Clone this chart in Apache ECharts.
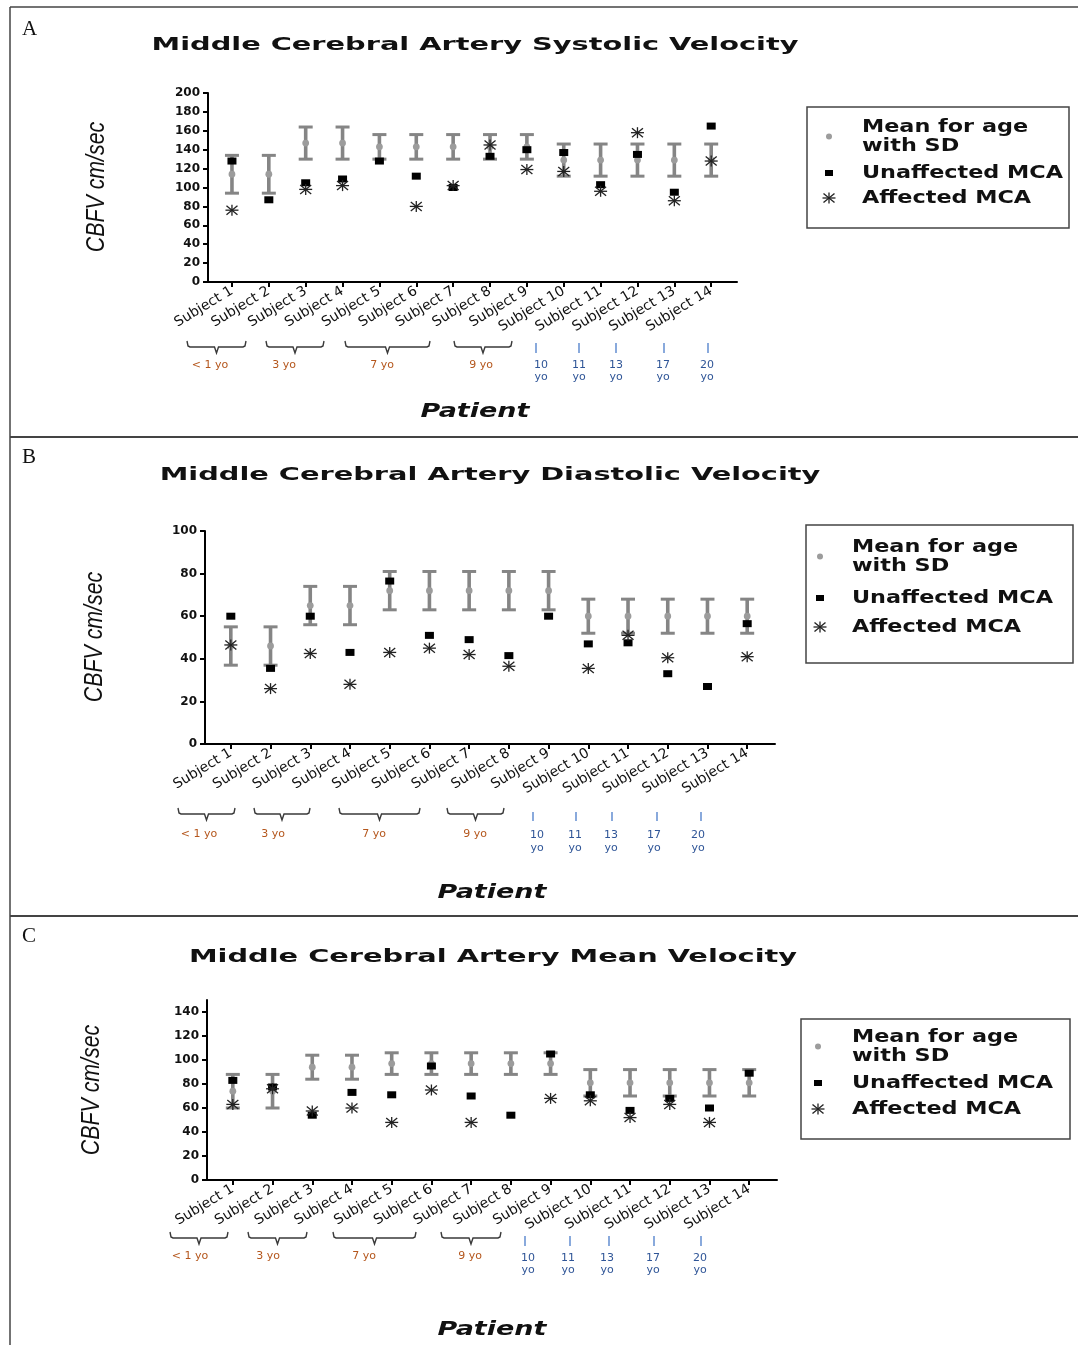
<!DOCTYPE html>
<html>
<head>
<meta charset="utf-8">
<script src="https://cdn.jsdelivr.net/npm/echarts@6/dist/echarts.min.js"></script>
<style>
html,body{margin:0;padding:0;background:#fff;}
#chart{width:1078px;height:1345px;}
</style>
</head>
<body>
<div id="chart"></div>
<script>
// ---------------- DATA ----------------
const subjects = ['Subject 1','Subject 2','Subject 3','Subject 4','Subject 5','Subject 6','Subject 7',
  'Subject 8','Subject 9','Subject 10','Subject 11','Subject 12','Subject 13','Subject 14'];

// Panel A: systolic velocity
const sysMean = [114,114,147,147,143,143,143,143,143,129,129,129,129,129];
const sysSD   = [20,20,17,17,13,13,13,13,13,17,17,17,17,17];
const sysUnaffected = [128,87,105,109,128,112,100,133,140,137,103,135,95,165];
const sysAffected   = [76,null,98,102,null,80,102,145,119,117,96,158,86,128];

// Panel B: diastolic velocity
const diaMean = [46,46,65,65,72,72,72,72,72,60,60,60,60,60];
const diaSD   = [9,9,9,9,9,9,9,9,9,8,8,8,8,8];
const diaUnaffected = [60,35.5,60,43,76.5,51,49,41.5,60,47,47.5,33,27,56.5];
const diaAffected   = [46.5,26,42.5,28,43,45,42,36.5,null,35.5,51,40.5,null,41];

// Panel C: mean velocity
const mnMean = [74,74,94,94,97,97,97,97,97,81,81,81,81,81];
const mnSD   = [14,14,10,10,9,9,9,9,9,11,11,11,11,11];
const mnUnaffected = [83,77.5,54,73,71,95,70,54,105,71,58,68,60,89];
const mnAffected   = [63,76,57.5,60,48,75,48,null,68,66,52,63,48,null];

const titles = ['Middle Cerebral Artery Systolic Velocity','Middle Cerebral Artery Diastolic Velocity','Middle Cerebral Artery Mean Velocity'];
const panelLetters = ['A','B','C'];
const yAxisName = 'CBFV cm/sec';
const xAxisName = 'Patient';
const legendLabels = ['Mean for age','with SD','Unaffected MCA','Affected MCA'];
const ageGroupLabels = ['< 1 yo','3 yo','7 yo','9 yo'];
const ageSingleLabels = ['10','11','13','17','20'];
const ageUnit = 'yo';
const yMax = [200,100,150];
const yLabelTicks = [[0,20,40,60,80,100,120,140,160,180,200],[0,20,40,60,80,100],[0,20,40,60,80,100,120,140]];

const panelsData = [
  {mean:sysMean, sd:sysSD, un:sysUnaffected, af:sysAffected},
  {mean:diaMean, sd:diaSD, un:diaUnaffected, af:diaAffected},
  {mean:mnMean, sd:mnSD, un:mnUnaffected, af:mnAffected}
];

// ---------------- LAYOUT (positions/styles only) ----------------
const layout = [
  {grid:{left:208,top:93,width:529,height:189}, title:[475,45], letter:[22,19], ylab:[97,187], patient:[475,412],
   legend:{box:[807,107,262,121], sym:829, tx:862, ys:[127,146,173,198]},
   brackets:[[187,246],[266,324],[345,430],[454,512]], bLab:[210,284,382,481], bY:[341,347,353], bLabY:365,
   ticks:[536,579,616,664,708], tLab:[541,579,616,663,707], tY:[343,353], tLabY:[365,377]},
  {grid:{left:205,top:531,width:570,height:213}, title:[490,475], letter:[22,447], ylab:[95,637], patient:[492,893],
   legend:{box:[806,525,267,138], sym:820, tx:852, ys:[547,566,598,627]},
   brackets:[[178,235],[254,310],[339,420],[447,504]], bLab:[199,273,374,475], bY:[808,814,820], bLabY:834,
   ticks:[533,576,612,657,701], tLab:[537,575,611,654,698], tY:[812,821], tLabY:[835,848]},
  {grid:{left:207,top:1000,width:570,height:180}, title:[493,957], letter:[22,926], ylab:[92,1090], patient:[492,1330],
   legend:{box:[801,1019,269,120], sym:818, tx:852, ys:[1037,1056,1083,1109]},
   brackets:[[170,228],[248,307],[333,416],[441,501]], bLab:[190,268,364,470], bY:[1232,1238,1244], bLabY:1256,
   ticks:[525,570,609,654,701], tLab:[528,568,607,653,700], tY:[1236,1246], tLabY:[1258,1270]}
];

const GRAY = '#858585';
const DOT = '#9c9c9c';
const STAR = '#222';
const ORANGE = '#b4561c';
const BLUE_T = '#2f5597';
const BLUE_L = '#4a7cc9';

// ---------------- RENDERERS ----------------
function renderErr(params, api) {
  const x = api.value(0), m = api.value(1), sd = api.value(2);
  const pm = api.coord([x, m]);
  const ph = api.coord([x, m + sd]);
  const pl = api.coord([x, m - sd]);
  const cw = 7;
  return {type:'group', children:[
    {type:'line', shape:{x1:pm[0],y1:pl[1],x2:pm[0],y2:ph[1]}, style:{stroke:GRAY, lineWidth:3.6}},
    {type:'line', shape:{x1:pm[0]-cw,y1:ph[1],x2:pm[0]+cw,y2:ph[1]}, style:{stroke:GRAY,lineWidth:3}},
    {type:'line', shape:{x1:pm[0]-cw,y1:pl[1],x2:pm[0]+cw,y2:pl[1]}, style:{stroke:GRAY,lineWidth:3}},
    {type:'circle', shape:{cx:pm[0],cy:pm[1],r:3.4}, style:{fill:DOT}}
  ]};
}
function starShape(cx, cy) {
  const st = {stroke: STAR, lineWidth: 1.3};
  return [
    {type:'line', shape:{x1:cx-6.5,y1:cy,x2:cx+6.5,y2:cy}, style:st},
    {type:'line', shape:{x1:cx,y1:cy-5.5,x2:cx,y2:cy+5.5}, style:st},
    {type:'line', shape:{x1:cx-5.5,y1:cy-4.5,x2:cx+5.5,y2:cy+4.5}, style:st},
    {type:'line', shape:{x1:cx-5.5,y1:cy+4.5,x2:cx+5.5,y2:cy-4.5}, style:st}
  ];
}
function renderStar(params, api) {
  const p = api.coord([api.value(0), api.value(1)]);
  return {type:'group', children: starShape(p[0], p[1])};
}

// ---------------- OPTION ----------------
const grids = [], xAxes = [], yAxes = [], series = [], graphics = [];
const xTickVals = subjects.map((s, i) => i + 1);

layout.forEach((L, k) => {
  grids.push(Object.assign({containLabel:false}, L.grid));
  xAxes.push({
    type:'value', gridIndex:k, min:0.35, max:14.7,
    axisLine:{show:true, onZero:false, lineStyle:{color:'#000', width:2}},
    axisTick:{show:true, length:5, lineStyle:{color:'#000', width:2}, customValues:xTickVals},
    axisLabel:{show:true, customValues:xTickVals, rotate:31, margin:8,
      formatter:(v)=>subjects[Math.round(v)-1] || '',
      fontFamily:'DejaVu Sans', fontSize:14, color:'#111'},
    splitLine:{show:false}
  });
  yAxes.push({
    type:'value', gridIndex:k, min:0, max:yMax[k],
    axisLine:{show:true, lineStyle:{color:'#000', width:2}},
    axisTick:{show:true, length:5, lineStyle:{color:'#000', width:2}, customValues:yLabelTicks[k]},
    axisLabel:{show:true, customValues:yLabelTicks[k], margin:8, fontFamily:'DejaVu Sans', fontWeight:'bold', fontSize:12, color:'#111'},
    splitLine:{show:false}
  });
  const D = panelsData[k];
  series.push({
    type:'custom', xAxisIndex:k, yAxisIndex:k, renderItem:renderErr, z:2,
    data: subjects.map((s,i)=>[i+1, D.mean[i], D.sd[i]])
  });
  series.push({
    type:'scatter', xAxisIndex:k, yAxisIndex:k, symbol:'rect', symbolSize:[9,7], z:3,
    itemStyle:{color:'#000', opacity:1},
    data: subjects.map((s,i)=>[i+1, D.un[i]]).filter(d=>d[1]!=null)
  });
  series.push({
    type:'custom', xAxisIndex:k, yAxisIndex:k, renderItem:renderStar, z:4,
    data: subjects.map((s,i)=>[i+1, D.af[i]]).filter(d=>d[1]!=null)
  });

  // Titles & labels
  graphics.push({type:'text', x:L.title[0], y:L.title[1], scaleX:1.6,
    style:{text:titles[k], align:'center', verticalAlign:'middle', fontFamily:'DejaVu Sans', fontWeight:'bold', fontSize:18, fill:'#111'}});
  graphics.push({type:'text', x:L.letter[0], y:L.letter[1],
    style:{text:panelLetters[k], align:'left', verticalAlign:'top', fontFamily:'Liberation Serif', fontSize:21, fill:'#111'}});
  graphics.push({type:'text', x:L.ylab[0], y:L.ylab[1], rotation:Math.PI/2, scaleX:0.82,
    style:{text:yAxisName, align:'center', verticalAlign:'middle', fontFamily:'Liberation Sans', fontStyle:'italic', fontSize:26, fill:'#111'}});
  graphics.push({type:'text', x:L.patient[0], y:L.patient[1], scaleX:1.42,
    style:{text:xAxisName, align:'center', verticalAlign:'middle', fontFamily:'DejaVu Sans', fontStyle:'italic', fontWeight:'bold', fontSize:19, fill:'#111'}});

  // Legend
  const G = L.legend;
  graphics.push({type:'rect', shape:{x:G.box[0], y:G.box[1], width:G.box[2], height:G.box[3]},
    style:{fill:'none', stroke:'#444', lineWidth:1.5}});
  graphics.push({type:'circle', shape:{cx:G.sym, cy:(G.ys[0]+G.ys[1])/2, r:3}, style:{fill:DOT}});
  graphics.push({type:'rect', shape:{x:G.sym-4, y:G.ys[2]-3, width:8, height:6}, style:{fill:'#000'}});
  graphics.push({type:'group', children: starShape(G.sym, G.ys[3])});
  legendLabels.forEach((t, j) => {
    graphics.push({type:'text', x:G.tx, y:G.ys[j], scaleX:1.24,
      style:{text:t, align:'left', verticalAlign:'middle', fontFamily:'DejaVu Sans', fontWeight:'bold', fontSize:18, fill:'#111'}});
  });

  // Age brackets
  L.brackets.forEach((b, j) => {
    const [x1, x2] = b, cx = (x1 + x2) / 2, [yt, ym, yb] = L.bY;
    graphics.push({type:'polyline', shape:{points:[[x1,yt],[x1+1,ym-1],[x1+3,ym],[cx-2,ym],[cx,yb],[cx+2,ym],[x2-3,ym],[x2-1,ym-1],[x2,yt]]},
      style:{fill:'none', stroke:'#3a3a3a', lineWidth:1.4}});
    graphics.push({type:'text', x:L.bLab[j], y:L.bLabY,
      style:{text:ageGroupLabels[j], align:'center', verticalAlign:'middle', fontFamily:'DejaVu Sans', fontSize:11, fill:ORANGE}});
  });
  L.ticks.forEach((tx, j) => {
    graphics.push({type:'line', shape:{x1:tx, y1:L.tY[0], x2:tx, y2:L.tY[1]}, style:{stroke:BLUE_L, lineWidth:1.3}});
    graphics.push({type:'text', x:L.tLab[j], y:L.tLabY[0],
      style:{text:ageSingleLabels[j], align:'center', verticalAlign:'middle', fontFamily:'DejaVu Sans', fontSize:11, fill:BLUE_T}});
    graphics.push({type:'text', x:L.tLab[j], y:L.tLabY[1],
      style:{text:ageUnit, align:'center', verticalAlign:'middle', fontFamily:'DejaVu Sans', fontSize:11, fill:BLUE_T}});
  });
});

// Panel borders
graphics.push({type:'line', shape:{x1:10,y1:7,x2:1078,y2:7}, style:{stroke:'#444', lineWidth:1.5}});
graphics.push({type:'line', shape:{x1:10,y1:7,x2:10,y2:1345}, style:{stroke:'#444', lineWidth:1.5}});
graphics.push({type:'line', shape:{x1:10,y1:437,x2:1078,y2:437}, style:{stroke:'#444', lineWidth:2}});
graphics.push({type:'line', shape:{x1:10,y1:916,x2:1078,y2:916}, style:{stroke:'#444', lineWidth:2}});

const chart = echarts.init(document.getElementById('chart'), null, {renderer:'canvas'});
chart.setOption({
  animation:false,
  backgroundColor:'#fff',
  grid:grids, xAxis:xAxes, yAxis:yAxes, series:series,
  graphic:{elements:graphics}
});
</script>
</body>
</html>
